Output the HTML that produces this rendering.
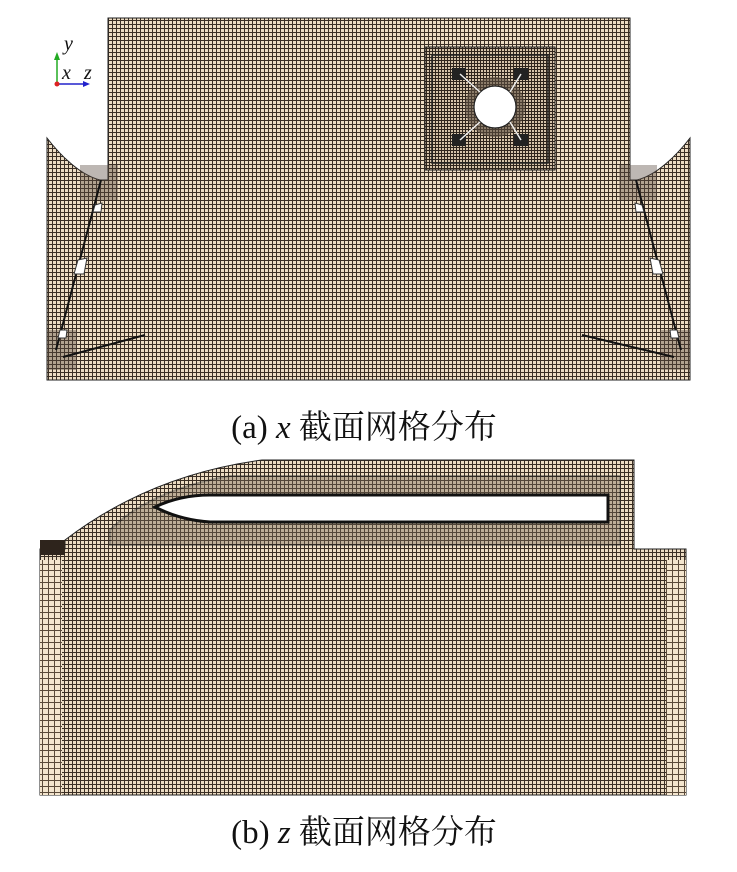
<!DOCTYPE html>
<html><head><meta charset="utf-8"><style>
html,body{margin:0;padding:0;background:#fff;width:737px;height:872px;overflow:hidden}
svg{display:block}
text{font-family:"Liberation Serif","Noto Serif CJK SC",serif;fill:#111}
</style></head><body>
<svg width="737" height="872" viewBox="0 0 737 872" xmlns="http://www.w3.org/2000/svg">
<defs>
<pattern id="m" width="4" height="4" patternUnits="userSpaceOnUse">
<rect width="4" height="4" fill="#ecdcc3"/><rect width="4" height="1" fill="#3a2e24"/><rect width="1" height="4" fill="#3a2e24"/>
</pattern>
<pattern id="d" width="3" height="3" patternUnits="userSpaceOnUse">
<rect width="3" height="3" fill="#d5c3aa"/><rect width="3" height="1" fill="#2e241c"/><rect width="1" height="3" fill="#2e241c"/>
</pattern>
<pattern id="c" width="6" height="6" patternUnits="userSpaceOnUse">
<rect width="6" height="6" fill="#f3e5ce"/><rect width="6" height="1" fill="#5a4a3a"/><rect width="1" height="6" fill="#5a4a3a"/>
</pattern>
</defs>
<!-- Panel a -->
<path d="M108,18 H630 V180 H637 C657,175 677,155 690,138 V380 H47 V138 C60,155 80,175 100,180 H108 Z" fill="url(#m)" stroke="#222" stroke-width="1"/>
<rect x="425" y="47" width="130" height="123" fill="url(#d)" stroke="#222"/>
<rect x="432" y="55" width="116" height="108" fill="none" stroke="#222" stroke-width="1.5"/>
<g fill="#222"><rect x="452" y="68" width="14" height="12"/><rect x="514" y="68" width="14" height="12"/><rect x="452" y="134" width="14" height="12"/><rect x="514" y="134" width="14" height="12"/></g>
<circle cx="495" cy="107" r="30" fill="#5a4c40" opacity="0.6"/>
<circle cx="495" cy="107" r="21" fill="#fff" stroke="#222" stroke-width="1.2"/>
<g stroke="#eee" stroke-width="1.5"><line x1="460" y1="74" x2="480" y2="92"/><line x1="521" y1="74" x2="510" y2="92"/><line x1="460" y1="140" x2="480" y2="122"/><line x1="521" y1="140" x2="510" y2="122"/></g>
<rect x="80" y="165" width="38" height="35" fill="#5a4c40" opacity="0.4"/>
<rect x="47" y="330" width="30" height="40" fill="#5a4c40" opacity="0.4"/>
<line x1="101" y1="180" x2="56" y2="350" stroke="#111" stroke-width="2"/>
<line x1="63" y1="357" x2="145" y2="335" stroke="#111" stroke-width="2"/>
<polygon points="95,205 102,203 101,212 93,212" fill="#fff" stroke="#333"/>
<polygon points="78,260 87,258 84,274 74,274" fill="#fff" stroke="#333"/>
<polygon points="60,330 67,330 66,338 58,338" fill="#fff" stroke="#333"/>
<rect x="619" y="165" width="38" height="35" fill="#5a4c40" opacity="0.4"/>
<rect x="660" y="330" width="30" height="40" fill="#5a4c40" opacity="0.4"/>
<line x1="636" y1="180" x2="681" y2="350" stroke="#111" stroke-width="2"/>
<line x1="674" y1="357" x2="582" y2="335" stroke="#111" stroke-width="2"/>
<polygon points="635,203 642,205 644,212 636,212" fill="#fff" stroke="#333"/>
<polygon points="650,258 659,260 663,274 653,274" fill="#fff" stroke="#333"/>
<polygon points="670,330 677,330 679,338 671,338" fill="#fff" stroke="#333"/>
<line x1="57" y1="84" x2="57" y2="58" stroke="#2a2" stroke-width="1.5"/>
<polygon points="54,60 60,60 57,52" fill="#2a2"/>
<line x1="57" y1="84" x2="85" y2="84" stroke="#22c" stroke-width="1.5"/>
<polygon points="83,81 83,87 90,84" fill="#22c"/>
<circle cx="57" cy="84" r="2.5" fill="#d22"/>
<text x="64" y="50" font-size="20" font-style="italic">y</text>
<text x="62" y="79" font-size="20" font-style="italic">x</text>
<text x="84" y="79" font-size="20" font-style="italic">z</text>
<text x="364" y="438" font-size="33" text-anchor="middle">(a) <tspan font-style="italic">x</tspan> 截面网格分布</text>
<!-- Panel b -->
<path d="M65,540 Q150,475 262,460 H634 V549 H686 V795 H40 V549 H65 Z" fill="url(#m)" stroke="#222"/>
<path d="M40,540 H65 V555 H40 Z" fill="#2e241c"/>
<rect x="40" y="560" width="22" height="235" fill="url(#c)"/>
<rect x="666" y="560" width="20" height="235" fill="url(#c)"/>
<path d="M110,545 V530 Q150,490 230,476 H620 V545 Z" fill="#7a6a5a" opacity="0.4" stroke="#222" stroke-width="2"/>
<path d="M155,507 Q180,495 210,495 H608 V522 H210 Q180,520 155,507 Z" fill="#fff" stroke="#111" stroke-width="3"/>
<text x="364" y="843" font-size="33" text-anchor="middle">(b) <tspan font-style="italic">z</tspan> 截面网格分布</text>
</svg>
</body></html>
